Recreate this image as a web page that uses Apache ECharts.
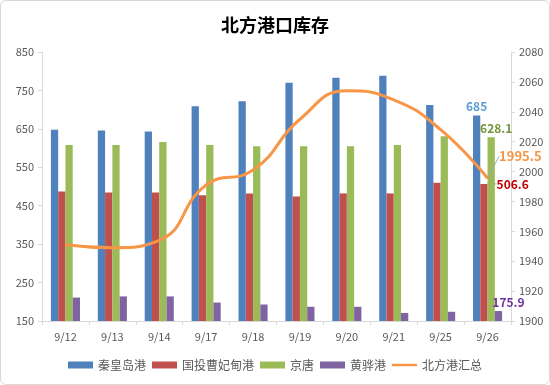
<!DOCTYPE html>
<html><head><meta charset="utf-8">
<script src="https://cdn.jsdelivr.net/npm/echarts@6/dist/echarts.min.js"></script>
<style>html,body{margin:0;padding:0;background:#fff}
#c{width:550px;height:385px;box-sizing:border-box;border:1px solid #d9d9d9;border-radius:6px}</style>
</head><body><div id="c"></div>
<script>
var categories = ['9/12','9/13','9/14','9/17','9/18','9/19','9/20','9/21','9/25','9/26'];
var qinhuangdao = [648, 646, 643, 709, 722, 770, 783, 788, 712, 685];
var caofeidian = [487, 484.5, 484.5, 477, 482, 474, 482, 482, 509.5, 506.6];
var jingtang = [608, 608, 615.5, 608, 605, 605, 605, 608, 631, 628.1];
var huanghua = [211, 214, 214, 198, 193, 187, 187, 171, 174, 175.9];
var total = [1951, 1949, 1954, 1991, 2001, 2035, 2054, 2048, 2028, 1995.5];
var leftTicks = {min:150, max:850, interval:100};
var rightTicks = {min:1900, max:2080, interval:20};

var FONT = '"Noto Sans CJK SC", "Noto Sans", sans-serif';
var last = categories.length - 1;
function withLastLabel(arr, label) {
  return arr.map(function (v, i) {
    return i === last ? {value: v, label: label} : v;
  });
}
var lblBase = {show: true, fontFamily: FONT, fontWeight: 'bold', fontSize: 12};

var chart = echarts.init(document.getElementById('c'));
chart.setOption({
  animation: false,
  textStyle: {fontFamily: FONT},
  title: {text: '北方港口库存', left: 'center', top: 10,
    textStyle: {fontSize: 18, fontWeight: 'bold', color: '#000', fontFamily: FONT}},
  grid: {left: 41, right: 38, top: 51, bottom: 63},
  legend: {bottom: 8, left: 'center', itemWidth: 25, itemHeight: 7, itemGap: 6,
    textStyle: {fontSize: 12, color: '#595959', fontFamily: FONT},
    data: [{name:'秦皇岛港', icon:'rect'},{name:'国投曹妃甸港', icon:'rect'},{name:'京唐', icon:'rect'},{name:'黄骅港', icon:'rect'},
      {name:'北方港汇总', icon:'path://M0,0L30,0L30,3L0,3Z'}]},
  xAxis: {type: 'category', data: categories,
    axisLine: {lineStyle: {color: '#d9d9d9'}},
    axisTick: {show: true, lineStyle: {color: '#d9d9d9'}, length: 4},
    axisLabel: {color: '#595959', fontSize: 11, margin: 10, fontFamily: FONT}},
  yAxis: [
    {type: 'value', min: leftTicks.min, max: leftTicks.max, interval: leftTicks.interval,
     axisLine: {show: true, lineStyle: {color: '#d9d9d9'}},
     axisTick: {show: true, length: 4, lineStyle: {color: '#d9d9d9'}},
     splitLine: {show: false},
     axisLabel: {color: '#595959', fontSize: 11, margin: 8, fontFamily: FONT}},
    {type: 'value', min: rightTicks.min, max: rightTicks.max, interval: rightTicks.interval,
     axisLine: {show: true, lineStyle: {color: '#d9d9d9'}},
     axisTick: {show: true, length: 4, lineStyle: {color: '#d9d9d9'}},
     splitLine: {show: false}, alignTicks: false,
     axisLabel: {color: '#595959', fontSize: 11, margin: 8, fontFamily: FONT,
       formatter: function (v) { return String(v); }}}
  ],
  series: [
    {name: '秦皇岛港', type: 'bar', barGap: '0%', barCategoryGap: '38%',
     itemStyle: {color: '#4F81BD'},
     data: withLastLabel(qinhuangdao, Object.assign({}, lblBase, {position: 'top', color: '#5B9BD5', distance: 3}))},
    {name: '国投曹妃甸港', type: 'bar', itemStyle: {color: '#C0504D'},
     data: withLastLabel(caofeidian, Object.assign({}, lblBase, {position: 'right', color: '#C00000'})),
     labelLayout: function (p) { return p.dataIndex === last ? {x: p.rect.x + p.rect.width + 9, y: p.rect.y, align: 'left', verticalAlign: 'middle'} : {}; },
     labelLine: {show: true, lineStyle: {color: '#a6a6a6', width: 1}}},
    {name: '京唐', type: 'bar', itemStyle: {color: '#9BBB59'},
     data: withLastLabel(jingtang, Object.assign({}, lblBase, {position: 'top', color: '#77933C', distance: 3, offset: [5, 0]}))},
    {name: '黄骅港', type: 'bar', itemStyle: {color: '#8064A2'},
     data: withLastLabel(huanghua, Object.assign({}, lblBase, {position: 'top', color: '#7030A0', distance: 3, offset: [10, 0]}))},
    {name: '北方港汇总', type: 'line', yAxisIndex: 1, smooth: true, symbol: 'circle', symbolSize: 1, showSymbol: true, z: 5,
     lineStyle: {color: '#F79646', width: 3}, itemStyle: {color: '#F79646'},
     data: withLastLabel(total, Object.assign({}, lblBase, {position: 'right', color: '#F79646', fontSize: 13})),
     labelLayout: function (p) { return p.dataIndex === last ? {dx: 6, dy: -22} : {}; },
     labelLine: {show: true, lineStyle: {color: '#a6a6a6', width: 1}}}
  ]
});
</script></body></html>
